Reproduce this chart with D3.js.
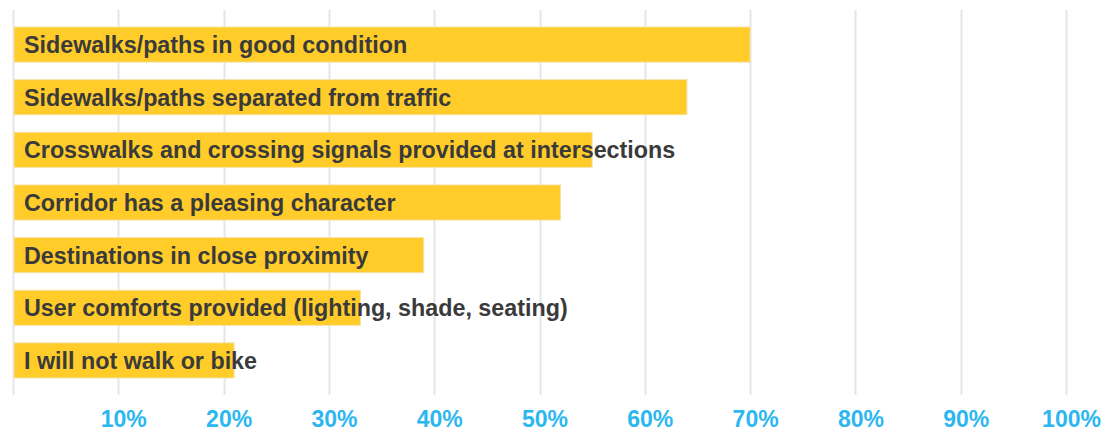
<!DOCTYPE html>
<html>
<head>
<meta charset="utf-8">
<script src="https://cdn.jsdelivr.net/npm/d3@7"></script>
<style>
    body { margin: 0; background: #fff; }
    svg { display: block; }
</style>
</head>
<body>
<svg id="chart" width="1109" height="430"></svg>
<script>
// Data
const categories = [
    'Sidewalks/paths in good condition',
    'Sidewalks/paths separated from traffic',
    'Crosswalks and crossing signals provided at intersections',
    'Corridor has a pleasing character',
    'Destinations in close proximity',
    'User comforts provided (lighting, shade, seating)',
    'I will not walk or bike'
];
const shares = [0.70, 0.64, 0.55, 0.52, 0.39, 0.33, 0.21];
const tickValues = [0.1, 0.2, 0.3, 0.4, 0.5, 0.6, 0.7, 0.8, 0.9, 1.0];

const svg = d3.select('#chart');

const xScale = d3.scaleLinear()
    .domain([0, 1])
    .range([13, 1066]);

const yScale = d3.scaleBand()
    .domain(categories)
    .range([27, 378])
    .paddingInner(0.333)
    .paddingOuter(0);

// Vertical grid
svg.append('g')
    .selectAll('line')
    .data([0, ...tickValues])
    .join('line')
    .attr('x1', d => Math.round(xScale(d)) + 0.5)
    .attr('x2', d => Math.round(xScale(d)) + 0.5)
    .attr('y1', 10)
    .attr('y2', 395)
    .attr('stroke', '#e6e6e9')
    .attr('stroke-width', 2);

// Bars
svg.append('g')
    .selectAll('rect')
    .data(categories)
    .join('rect')
    .attr('x', xScale(0) + 1)
    .attr('y', d => yScale(d))
    .attr('width', (d, i) => xScale(shares[i]) - xScale(0) - 1)
    .attr('height', yScale.bandwidth())
    .attr('fill', '#ffcc29')
    .attr('stroke', '#f3e3a8')
    .attr('stroke-width', 1);

// Labels inside bars
svg.append('g')
    .selectAll('text')
    .data(categories)
    .join('text')
    .attr('x', xScale(0) + 11)
    .attr('y', d => yScale(d) + yScale.bandwidth() / 2)
    .attr('dy', '0.36em')
    .style('font-family', '"Liberation Sans", Arial, sans-serif')
    .style('font-weight', 'bold')
    .style('font-size', '23.3px')
    .style('fill', '#3a3a3a')
    .text(d => d);

// X axis tick labels
const xAxis = svg.append('g')
    .attr('transform', 'translate(5,411)')
    .call(d3.axisBottom(xScale)
        .tickValues(tickValues)
        .tickSize(0)
        .tickPadding(0)
        .tickFormat(d3.format('.0%')));

xAxis.select('.domain').remove();
xAxis.selectAll('text')
    .style('font-family', '"Liberation Sans", Arial, sans-serif')
    .style('font-weight', 'bold')
    .style('font-size', '23px')
    .style('fill', '#2db7f0');
</script>
</body>
</html>
